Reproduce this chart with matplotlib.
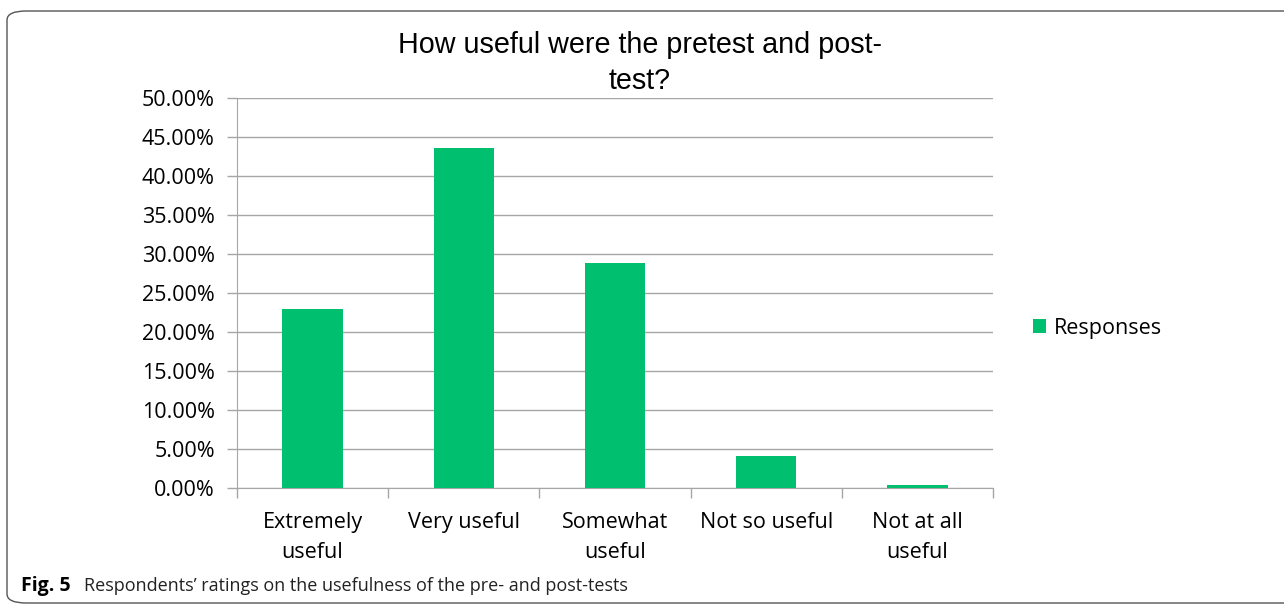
import matplotlib.pyplot as plt
from matplotlib.patches import FancyBboxPatch
from matplotlib.ticker import FuncFormatter, MultipleLocator

categories = ["Extremely\nuseful", "Very useful", "Somewhat\nuseful",
              "Not so useful", "Not at all\nuseful"]
responses = [22.9, 43.6, 28.8, 4.1, 0.35]

green = "#00bf6f"
grid_c = "#a6a6a6"
font = "Open Sans"

fig = plt.figure(figsize=(12.84, 6.05), dpi=100)

# rounded frame around the whole figure
frame = FancyBboxPatch((7 / 1284, 2 / 605), 1300 / 1284, 592 / 605,
                       boxstyle="round,pad=0,rounding_size=0.015",
                       transform=fig.transFigure, fill=False,
                       edgecolor="#555555", linewidth=1.0)
fig.patches.append(frame)

ax = fig.add_axes([237 / 1284, 1 - 488 / 605, 756 / 1284, 390 / 605])
x = list(range(len(categories)))
ax.bar(x, responses, width=0.4, color=green, label="Responses", zorder=3)

ax.set_xlim(-0.5, len(categories) - 0.5)
ax.set_ylim(0, 50)
ax.yaxis.set_major_locator(MultipleLocator(5))
ax.yaxis.set_major_formatter(FuncFormatter(lambda v, p: f"{v:.2f}%"))
ax.grid(axis="y", color=grid_c, linewidth=1.0, zorder=0)

ax.set_xticks([i - 0.5 for i in range(len(categories) + 1)], minor=False)
ax.set_xticklabels([])
ax.set_xticks(x, minor=True)
ax.set_xticklabels(categories, minor=True, fontsize=15.5, family=font,
                   linespacing=1.6)
ax.tick_params(axis="x", which="major", length=7, color=grid_c, width=1)
ax.tick_params(axis="x", which="minor", length=0, pad=17)
ax.tick_params(axis="y", length=7, color=grid_c, width=1, pad=9)
for lbl in ax.get_yticklabels():
    lbl.set_family(font)
    lbl.set_fontsize(15.5)

for side in ["top", "right"]:
    ax.spines[side].set_visible(False)
for side in ["left", "bottom"]:
    ax.spines[side].set_color(grid_c)

fig.text(640 / 1284, 1 - 63 / 605, "How useful were the pretest and post-\ntest?",
         ha="center", va="center", fontsize=20.7, family="Liberation Sans",
         linespacing=1.35)

leg = ax.legend(loc="center left", bbox_to_anchor=(1.027, 0.41), frameon=False,
                prop={"family": font, "size": 15.5}, handlelength=0.6,
                handleheight=0.6, handletextpad=0.4)

fig.text(21 / 1284, 1 - 586 / 605, "Fig. 5", fontsize=14, fontweight="bold",
         family=font, va="center")
fig.text(84 / 1284, 1 - 586 / 605,
         "Respondents\u2019 ratings on the usefulness of the pre- and post-tests",
         fontsize=13, family=font, va="center", color="#222222")

fig.savefig("out.png", dpi=100)
